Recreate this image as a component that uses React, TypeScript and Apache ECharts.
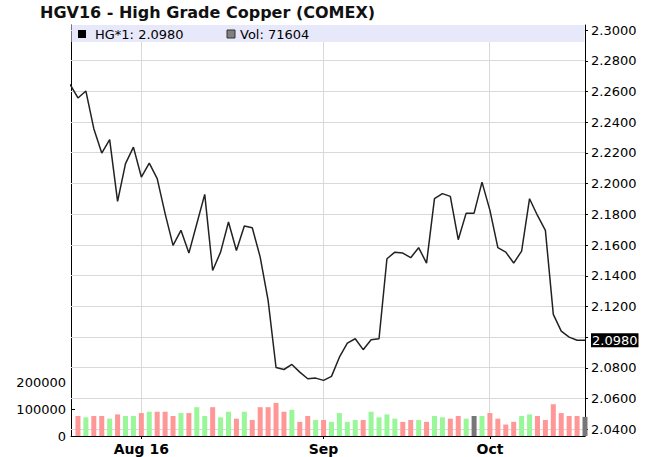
import React, { useEffect, useRef } from "react";
import * as echarts from "echarts";

const titleText = "HGV16 - High Grade Copper (COMEX)";
const priceLegend = "HG*1: 2.0980";
const volumeLegend = "Vol: 71604";

// close before the first visible session (its segment is clipped at the left edge)
const prevClose = 2.2647;

// daily closes, Jul 20 2016 .. Oct 19 2016
const closes = [
  2.2558, 2.2603, 2.2358, 2.2199, 2.2287, 2.1885, 2.213, 2.2238,
  2.2043, 2.2134, 2.2033, 2.1805, 2.1598, 2.1696, 2.1548, 2.1739,
  2.193, 2.1435, 2.1554, 2.175, 2.1565, 2.1724, 2.1713, 2.1522,
  2.124, 2.0803, 2.079, 2.0823, 2.0773, 2.073, 2.0734, 2.0719,
  2.0745, 2.087, 2.0962, 2.099, 2.0919, 2.0984, 2.099, 2.1511,
  2.1554, 2.1548, 2.1518, 2.1583, 2.1483, 2.1902, 2.1935, 2.1917,
  2.1635, 2.1808, 2.1808, 2.201, 2.1826, 2.1583, 2.1554, 2.1483,
  2.1561, 2.1902, 2.1793, 2.1696, 2.1149, 2.104, 2.1001, 2.098,
  2.098,
];

const volumes = [
  75000, 70000, 75000, 75000, 65000, 81000, 75000, 75000,
  86000, 91000, 91000, 91000, 75000, 86000, 86000, 108000,
  75000, 108000, 70000, 91000, 65000, 91000, 60000, 108000,
  108000, 124000, 91000, 98000, 53000, 75000, 60000, 60000,
  53000, 86000, 53000, 60000, 60000, 91000, 70000, 81000,
  65000, 53000, 60000, 60000, 53000, 75000, 70000, 65000,
  75000, 65000, 75000, 75000, 86000, 65000, 43000, 53000,
  75000, 81000, 75000, 60000, 119000, 86000, 75000, 75000,
  71604,
];

// session index of the first trading day of each month shown
const monthIndex = [8, 31, 52];
const monthLabels = ["Aug 16", "Sep", "Oct"];

const priceTicks = [
  2.04, 2.06, 2.08, 2.1, 2.12, 2.14, 2.16, 2.18, 2.2, 2.22, 2.24, 2.26, 2.28, 2.3,
];
const volumeTicks = [0, 100000, 200000];

const X_MIN = -0.88;
const X_MAX = 64;
const Y_MIN = 2.0357;
const Y_MAX = 2.3033;

const UP = "#99f799";
const DOWN = "#ff9797";
const FLAT = "#777777";
const FONT = "DejaVu Sans";
const GRID = "#d9d9d9";

const crisp = (v: number) => Math.round(v - 0.5) + 0.5;

export default function App() {
  const ref = useRef<HTMLDivElement>(null);

  useEffect(() => {
    if (!ref.current) return;
    const chart = echarts.init(ref.current, undefined, { renderer: "svg" });
    const lastClose = closes[closes.length - 1];

    const barData = volumes.map((v, i) => {
      const prev = i === 0 ? prevClose : closes[i - 1];
      const c = closes[i];
      const color = c > prev + 1e-9 ? UP : c < prev - 1e-9 ? DOWN : FLAT;
      return { value: [i, v], itemStyle: { color } };
    });
    const lineData = [[-1, prevClose], ...closes.map((c, i) => [i, c])];

    const priceLabelValues = priceTicks
      .filter((v) => Math.abs(v - 2.1) > 1e-9)
      .concat([lastClose]);

    const gridRows = [
      ...priceTicks.map((v) => [X_MIN, v, 0]),
      ...monthIndex.map((i) => [i, Y_MIN, 1]),
    ];

    chart.setOption({
      animation: false,
      backgroundColor: "#ffffff",
      grid: { left: 71, right: 65, top: 25, bottom: 21, containLabel: false },
      xAxis: {
        type: "value",
        min: X_MIN,
        max: X_MAX,
        axisLine: { show: true, onZero: false, lineStyle: { color: "#000", width: 1 } },
        axisTick: {
          show: true,
          customValues: monthIndex,
          length: 3,
          lineStyle: { color: "#000" },
        },
        axisLabel: {
          customValues: monthIndex,
          formatter: (v: number) => {
            const k = monthIndex.indexOf(Math.round(v));
            return k >= 0 ? monthLabels[k] : "";
          },
          fontFamily: FONT,
          fontSize: 14,
          fontWeight: "bold",
          color: "#000",
          margin: 6,
        },
        splitLine: { show: false },
      },
      yAxis: [
        {
          type: "value",
          position: "right",
          min: Y_MIN,
          max: Y_MAX,
          axisLine: { show: true, onZero: false, lineStyle: { color: "#000", width: 1 } },
          axisTick: {
            show: true,
            inside: false,
            length: 3,
            customValues: priceTicks,
            lineStyle: { color: "#000" },
          },
          axisLabel: {
            customValues: priceLabelValues,
            formatter: (v: number) =>
              Math.abs(v - lastClose) < 1e-9 ? "{hl|" + v.toFixed(4) + "}" : v.toFixed(4),
            fontFamily: FONT,
            fontSize: 13,
            color: "#000",
            margin: 6,
            rich: {
              hl: {
                backgroundColor: "#000",
                color: "#fff",
                fontFamily: FONT,
                fontSize: 13,
                padding: [1, 1, 0, 1],
              },
            },
          },
          splitLine: { show: false },
        },
        {
          type: "value",
          position: "left",
          min: 0,
          max: 1540000,
          axisLine: { show: true, onZero: false, lineStyle: { color: "#000", width: 1 } },
          axisTick: {
            show: true,
            inside: true,
            length: 4,
            customValues: [100000],
            lineStyle: { color: "#000" },
          },
          axisLabel: {
            customValues: volumeTicks,
            formatter: (v: number) => String(v),
            fontFamily: FONT,
            fontSize: 13,
            color: "#000",
            margin: 5,
          },
          splitLine: { show: false },
        },
      ],
      series: [
        {
          type: "custom",
          xAxisIndex: 0,
          yAxisIndex: 0,
          silent: true,
          z: 1,
          data: gridRows,
          encode: { x: 0, y: 1 },
          renderItem: (_params: any, api: any) => {
            const vertical = api.value(2) === 1;
            let x1: number, y1: number, x2: number, y2: number;
            if (vertical) {
              const a = api.coord([api.value(0), Y_MIN]);
              const b = api.coord([api.value(0), Y_MAX]);
              x1 = x2 = crisp(a[0]);
              y1 = a[1];
              y2 = b[1];
            } else {
              const a = api.coord([X_MIN, api.value(1)]);
              const b = api.coord([X_MAX, api.value(1)]);
              y1 = y2 = crisp(a[1]);
              x1 = a[0];
              x2 = b[0];
            }
            return {
              type: "line",
              shape: { x1, y1, x2, y2 },
              style: { stroke: GRID, lineWidth: 1 },
            };
          },
        },
        {
          type: "bar",
          xAxisIndex: 0,
          yAxisIndex: 1,
          data: barData,
          barWidth: 5,
          clip: true,
          z: 2,
        },
        {
          type: "line",
          xAxisIndex: 0,
          yAxisIndex: 0,
          data: lineData,
          showSymbol: false,
          clip: true,
          lineStyle: { color: "#222", width: 1.5 },
          z: 3,
        },
      ],
      graphic: [
        {
          type: "text",
          left: 40,
          top: 4,
          style: {
            text: titleText,
            font: `bold 16px "${FONT}"`,
            fill: "#111",
          },
        },
        {
          type: "rect",
          shape: { x: 71.5, y: 25, width: 513, height: 17 },
          style: { fill: "#e8e8fb" },
          z: 10,
        },
        {
          type: "rect",
          shape: { x: 78, y: 30, width: 8, height: 8 },
          style: { fill: "#000" },
          z: 11,
        },
        {
          type: "text",
          x: 95,
          y: 34,
          style: {
            text: priceLegend,
            font: `13px "${FONT}"`,
            fill: "#000",
            verticalAlign: "middle",
          },
          z: 11,
        },
        {
          type: "rect",
          shape: { x: 227, y: 30, width: 8, height: 8 },
          style: { fill: "#808080", stroke: "#333", lineWidth: 1 },
          z: 11,
        },
        {
          type: "text",
          x: 240,
          y: 34,
          style: {
            text: volumeLegend,
            font: `13px "${FONT}"`,
            fill: "#000",
            verticalAlign: "middle",
          },
          z: 11,
        },
      ],
    });

    return () => chart.dispose();
  }, []);

  return (
    <div
      ref={ref}
      style={{ position: "fixed", left: 0, top: 0, width: 650, height: 457 }}
    />
  );
}
